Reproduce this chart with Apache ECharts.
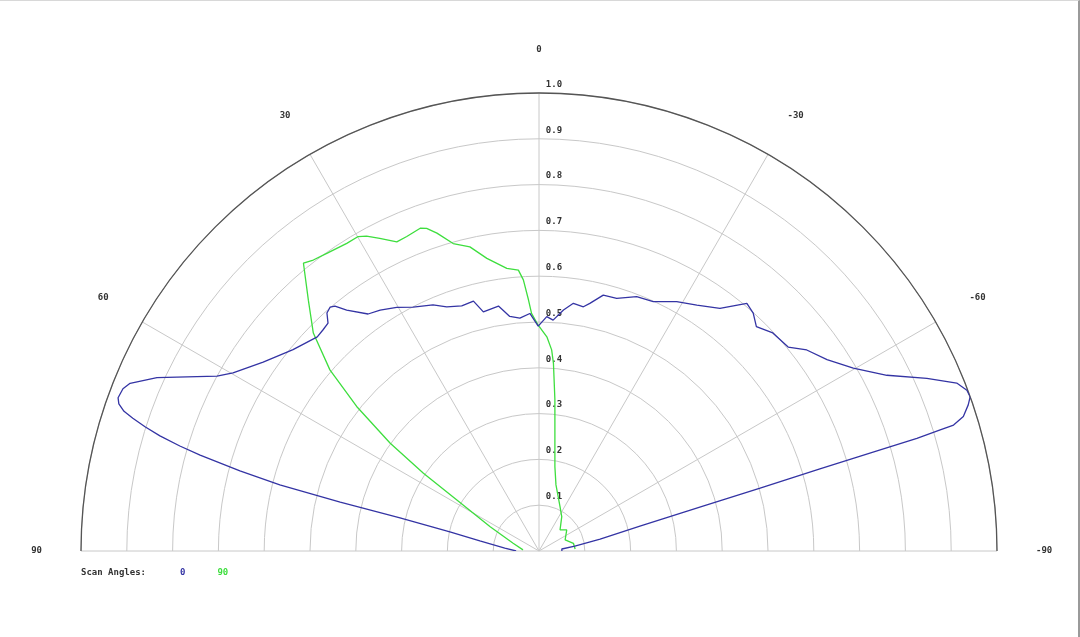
<!DOCTYPE html>
<html>
<head>
<meta charset="utf-8">
<script src="https://cdn.jsdelivr.net/npm/echarts@6/dist/echarts.min.js"></script>
<style>
html,body{margin:0;padding:0;background:#fff;}
#chart{position:absolute;left:0;top:0;width:1080px;height:637px;}
#frame{position:absolute;left:0;top:0;width:1080px;height:637px;box-sizing:border-box;border-top:1px solid #d8d8d8;border-right:2px solid #9a9a9a;pointer-events:none;}
</style>
</head>
<body>
<div id="chart"></div>
<div id="frame"></div>
<script>
// ---- data (angle in degrees, relative value) ----
var angleTicks = [-90, -60, -30, 0, 30, 60, 90];
var radiusTicks = [0.1, 0.2, 0.3, 0.4, 0.5, 0.6, 0.7, 0.8, 0.9, 1.0];
var seriesNames = ['0', '90'];
var legendTitle = 'Scan Angles:';

var scan0Angles = [90, 87.6, 85, 80.4, 77.9, 76.6, 76.2, 75.7, 75.0, 74.2, 73.7, 73.1, 72.5, 71.9, 71.4, 70.7, 70.0, 68.7, 67.7, 65.6, 61.5, 59.8, 55.6, 50.7, 46.0, 44.3, 42.8, 41.7, 40.6, 39.8, 38.6, 35.8, 33.4, 30.3, 27.3, 23.3, 20.7, 17.5, 14.7, 13.1, 9.4, 7.1, 4.7, 2.2, 0.2, -1.9, -3.5, -5.8, -7.9, -10.3, -11.6, -14.1, -17.1, -21.0, -24.6, -28.9, -32.7, -36.7, -40.0, -42.0, -44.1, -47.0, -50.7, -53.1, -56.4, -59.8, -63.2, -66.0, -68.1, -69.4, -70.3, -71.2, -72.4, -73.1, -73.2, -73.4, -73.5, -73.7, -74.1, -74.7, -76.1, -78.9, -82.1, -85, -90];
var scan0Values = [0.05, 0.052, 0.075, 0.131, 0.199, 0.312, 0.447, 0.584, 0.676, 0.769, 0.817, 0.865, 0.902, 0.933, 0.956, 0.972, 0.978, 0.975, 0.965, 0.916, 0.800, 0.773, 0.730, 0.694, 0.673, 0.675, 0.678, 0.696, 0.701, 0.696, 0.673, 0.638, 0.630, 0.616, 0.599, 0.585, 0.570, 0.561, 0.564, 0.536, 0.542, 0.516, 0.510, 0.519, 0.491, 0.512, 0.505, 0.529, 0.546, 0.542, 0.552, 0.576, 0.577, 0.595, 0.599, 0.622, 0.638, 0.661, 0.706, 0.699, 0.682, 0.698, 0.703, 0.731, 0.755, 0.794, 0.851, 0.927, 0.983, 0.998, 1.0, 0.990, 0.972, 0.946, 0.915, 0.861, 0.777, 0.639, 0.502, 0.364, 0.227, 0.136, 0.079, 0.05, 0.05];

var scan90Angles = [86, 73.3, 63.6, 58.2, 56.1, 54.1, 51.6, 49.1, 46.0, 42.6, 39.3, 37.8, 35.5, 32.0, 29.9, 28.7, 27.0, 24.7, 22.8, 20.2, 19.2, 17.8, 15.6, 12.8, 10.1, 6.5, 4.2, 3.3, 2.4, 1.8, 0.2, -2.1, -3.6, -4.4, -6.0, -7.7, -10.7, -14.4, -25.4, -33.5, -45, -52.8, -67, -77.4, -86.8];
var scan90Values = [0.035, 0.059, 0.119, 0.211, 0.304, 0.401, 0.508, 0.604, 0.685, 0.744, 0.812, 0.804, 0.798, 0.792, 0.792, 0.784, 0.766, 0.743, 0.745, 0.751, 0.746, 0.729, 0.697, 0.681, 0.649, 0.621, 0.615, 0.593, 0.549, 0.519, 0.493, 0.468, 0.440, 0.411, 0.332, 0.259, 0.187, 0.149, 0.107, 0.090, 0.065, 0.076, 0.062, 0.077, 0.079];

var BLUE = '#3434a4';
var GREEN = '#3ede3e';
var FONT = 'DejaVu Sans Mono';

function pairs(angles, values) {
  return angles.map(function (a, i) { return [values[i], a]; });
}

var chart = echarts.init(document.getElementById('chart'), null, {renderer: 'canvas'});
var option = {
  animation: false,
  backgroundColor: '#fff',
  title: {
    text: legendTitle, left: 81, top: 568, padding: 0,
    textStyle: {fontFamily: FONT, fontSize: 9, fontWeight: 'bold', color: '#333'}
  },
  legend: {
    left: 175, top: 568, padding: 0, itemGap: 27, itemWidth: 0, itemHeight: 0,
    icon: 'none', selectedMode: false,
    textStyle: {fontFamily: FONT, fontSize: 9, fontWeight: 'bold'},
    data: [
      {name: seriesNames[0], textStyle: {color: BLUE}},
      {name: seriesNames[1], textStyle: {color: GREEN}}
    ]
  },
  polar: [
    {center: [539, 551], radius: 458},
    {center: [539, 551], radius: 458}
  ],
  angleAxis: [
    {
      polarIndex: 0, type: 'value', min: -90, max: 90, interval: 30,
      startAngle: 0, endAngle: 180, clockwise: false,
      axisLine: {show: true, lineStyle: {color: '#555', width: 1.3}},
      axisTick: {show: false},
      splitLine: {show: true, lineStyle: {color: '#c8c8c8', width: 1}},
      axisLabel: {
        show: true, margin: 39, fontFamily: FONT, fontSize: 9, fontWeight: 'bold', color: '#333',
        formatter: function (v) { return angleTicks.indexOf(v) >= 0 ? String(v) : ''; }
      }
    },
    {
      polarIndex: 1, type: 'value', min: 0, max: 360, startAngle: 90, show: false
    }
  ],
  radiusAxis: [
    {
      polarIndex: 0, type: 'value', min: 0, max: 1, interval: 0.1,
      axisLine: {show: false}, axisTick: {show: false}, axisLabel: {show: false},
      splitLine: {show: true, lineStyle: {color: '#c8c8c8', width: 1}}
    },
    {
      polarIndex: 1, type: 'value', min: 0, max: 1, interval: 0.1,
      axisLine: {show: false}, axisTick: {show: false}, splitLine: {show: false},
      axisLabel: {
        show: true, margin: 7, showMinLabel: false,
        align: 'center', verticalAlign: 'bottom', padding: [0, 0, 4, 44],
        fontFamily: FONT, fontSize: 9, fontWeight: 'bold', color: '#333',
        formatter: function (v) { return radiusTicks.indexOf(Math.round(v * 10) / 10) >= 0 ? v.toFixed(1) : ''; }
      }
    }
  ],
  series: [
    {
      name: seriesNames[0], type: 'line', coordinateSystem: 'polar', polarIndex: 0,
      data: pairs(scan0Angles, scan0Values), showSymbol: false, symbol: 'none',
      lineStyle: {color: BLUE, width: 1.3}, itemStyle: {color: BLUE}, z: 3
    },
    {
      name: seriesNames[1], type: 'line', coordinateSystem: 'polar', polarIndex: 0,
      data: pairs(scan90Angles, scan90Values), showSymbol: false, symbol: 'none',
      lineStyle: {color: GREEN, width: 1.3}, itemStyle: {color: GREEN}, z: 2
    }
  ]
};
chart.setOption(option);
</script>
</body>
</html>
